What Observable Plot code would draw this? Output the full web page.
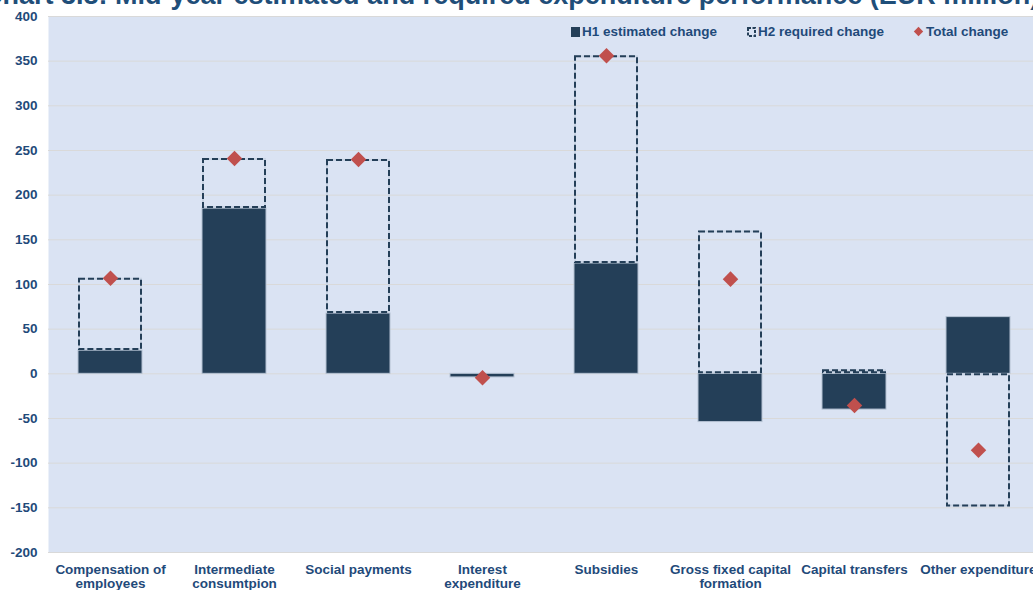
<!DOCTYPE html>
<html>
<head>
<meta charset="utf-8">
<script src="https://cdn.jsdelivr.net/npm/d3@7"></script>
<script src="https://cdn.jsdelivr.net/npm/@observablehq/plot@0.6"></script>
<style>
  html, body { margin: 0; padding: 0; background: #ffffff; overflow: hidden; }
  #wrap { position: relative; width: 1033px; height: 590px; overflow: hidden;
          font-family: "Liberation Sans", Arial, sans-serif; }
  #title { position: absolute; left: -17px; top: -18px; margin: 0; white-space: nowrap;
           font-size: 27px; line-height: 27px; font-weight: bold; color: #1f4e79; z-index: 2; }
  #legend { position: absolute; top: 24px; left: 571px; display: flex;
            font-size: 13.5px; font-weight: bold; color: #1f4a7a; z-index: 2; }
  #legend .item { display: flex; align-items: center; white-space: nowrap; }
  #legend svg { margin-right: 2px; }
  #chart svg { max-width: none; }
</style>
</head>
<body>
<div id="wrap">
  <div id="title">Chart 3.8: Mid-year estimated and required expenditure performance (EUR million)</div>
  <div id="legend">
    <div class="item" style="width:176px"><svg width="9" height="10"><rect x="0" y="0" width="9" height="10" fill="#243f58"/></svg>H1 estimated change</div>
    <div class="item" style="width:166px"><svg width="9" height="10"><rect x="1" y="1" width="7" height="8" fill="none" stroke="#243f58" stroke-width="2" stroke-dasharray="3,1.5"/></svg>H2 required change</div>
    <div class="item"><svg width="11" height="11"><rect x="2.2" y="2.2" width="6.6" height="6.6" fill="#c0504d" transform="rotate(45 5.5 5.5)"/></svg>Total change</div>
  </div>
  <div id="chart"></div>
</div>
<script>
// Expenditure categories (axis labels, two lines where the label wraps)
const categories = [
  "Compensation of\nemployees",
  "Intermediate\nconsumtpion",
  "Social payments",
  "Interest\nexpenditure",
  "Subsidies",
  "Gross fixed capital\nformation",
  "Capital transfers",
  "Other expenditure"
];

// H1 estimated change, EUR million
const h1Estimated = [26, 185, 67.5, -4, 123.5, -54, -40, 63.5];

// Total change for the year, EUR million
const totalChange = [107, 241, 240, -4.5, 356, 106, -35.5, -85.5];

// Y axis ticks
const yTicks = [-200, -150, -100, -50, 0, 50, 100, 150, 200, 250, 300, 350, 400];

// H2 required change = total minus what H1 already delivered
const h2Required = totalChange.map((t, i) => t - h1Estimated[i]);

const rows = categories.map((c, i) => {
  const h1 = h1Estimated[i];
  const h2 = h2Required[i];
  // H2 stacks on H1 when both go the same way, otherwise it starts from zero
  const base = Math.sign(h1) === Math.sign(h2) ? h1 : 0;
  return { category: c, h1, h2, h2Start: base, h2End: base + h2, total: totalChange[i] };
});

const navy = "#243f58";

const chart = Plot.plot({
  width: 1033,
  height: 590,
  marginLeft: 48,
  marginRight: 0,
  marginTop: 16,
  marginBottom: 38,
  style: {
    fontFamily: "'Liberation Sans', Arial, sans-serif",
    fontSize: "13.5px",
    fontWeight: "bold",
    color: "#1f4a7a",
    background: "transparent",
    overflow: "hidden"
  },
  x: { domain: categories, range: [48, 1040], paddingInner: 0.48, paddingOuter: 0.24, label: null },
  y: { domain: [-200, 400], ticks: yTicks, label: null },
  marks: [
    Plot.frame({ fill: "#dae3f3", stroke: null }),
    Plot.gridY(yTicks, { stroke: "#d9d9d9", strokeOpacity: 1 }),
    Plot.axisY({ ticks: yTicks, tickSize: 0, tickPadding: 11, tickFormat: d => String(d), label: null }),
    Plot.axisX({ tickSize: 0, tickPadding: 11, lineHeight: 1.05, label: null }),
    // H1 estimated change
    Plot.barY(rows, { x: "category", y1: 0, y2: "h1", fill: navy, stroke: "#b4c1d2", strokeWidth: 1 }),
    // H2 required change, dashed outline over a pale edge
    Plot.barY(rows, {
      x: "category", y1: "h2Start", y2: "h2End",
      fill: "none", stroke: "#c9d4e4", strokeWidth: 2, inset: 1
    }),
    Plot.barY(rows, {
      x: "category", y1: "h2Start", y2: "h2End",
      fill: "none", stroke: navy, strokeWidth: 2, strokeDasharray: "6,3", inset: 1
    }),
    // Total change
    Plot.dot(rows, { x: "category", y: "total", symbol: "square", rotate: 45, r: 6.2, fill: "#c0504d", stroke: "none" })
  ]
});

document.getElementById("chart").appendChild(chart);
</script>
</body>
</html>
